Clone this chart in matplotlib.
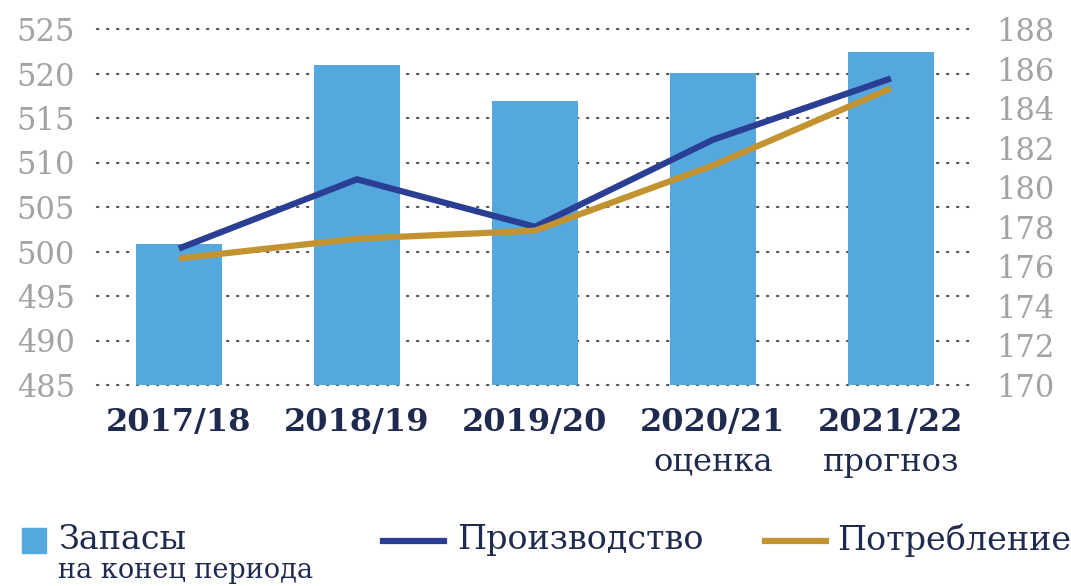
import matplotlib
matplotlib.use("Agg")
import matplotlib.pyplot as plt
from matplotlib.lines import Line2D
from matplotlib.patches import Rectangle
import numpy as np

categories = ["2017/18", "2018/19", "2019/20", "2020/21\nоценка", "2021/22\nпрогноз"]
stocks = [500.8, 521.0, 516.9, 520.1, 522.4]
production = [176.9, 180.4, 178.0, 182.4, 185.5]
consumption = [176.4, 177.4, 177.8, 181.1, 185.0]
left_ticks = [485, 490, 495, 500, 505, 510, 515, 520, 525]
right_ticks = [170, 172, 174, 176, 178, 180, 182, 184, 186, 188]
legend_labels = ["Запасы", "на конец периода", "Производство", "Потребление"]

BAR = "#54a8dd"
PROD = "#2a3f93"
CONS = "#c29330"
GREY = "#a3a3a3"
NAVY = "#1f2a4f"
FONT = "DejaVu Serif"

W, H = 1071, 586
fig = plt.figure(figsize=(W / 100, H / 100), dpi=100)
ax = fig.add_axes([97 / W, 1 - 385 / H, 874 / W, 356 / H])
x = np.arange(len(categories))

ax.set_ylim(485, 525)
ax.set_xlim(-0.46, 4.45)
ax.set_yticks(left_ticks)
ax.yaxis.grid(True, linestyle=(0, (0.6, 3.9)), color="#555555", linewidth=1.6,
              dash_capstyle="round", clip_on=False)
for gl in ax.get_ygridlines():
    gl.set_clip_on(False)
ax.set_axisbelow(True)
ax.bar(x, [s - 485 for s in stocks], bottom=485, width=0.48, color=BAR, zorder=2)
for s in ax.spines.values():
    s.set_visible(False)
ax.tick_params(axis="both", length=0)
ax.tick_params(axis="y", labelsize=22, labelcolor=GREY, pad=16)
ax.set_xticks(x)
ax.set_xticklabels([c.split("\n")[0] for c in categories], fontsize=23,
                   fontweight="bold", color=NAVY, family=FONT)
ax.tick_params(axis="x", pad=16)
for lab in ax.get_yticklabels():
    lab.set_family(FONT)
for i, c in enumerate(categories):
    parts = c.split("\n")
    if len(parts) > 1:
        ax.annotate(parts[1], xy=(i, 0), xycoords=("data", "axes fraction"),
                    xytext=(0, -55.5), textcoords="offset points", ha="center",
                    va="center", fontsize=23, color=NAVY, family=FONT)

ax2 = ax.twinx()
ax2.set_ylim(170, 188)
ax2.set_yticks(right_ticks)
ax2.plot(x, production, color=PROD, linewidth=4.5, solid_capstyle="butt", zorder=3)
ax2.plot(x, consumption, color=CONS, linewidth=4.5, solid_capstyle="butt", zorder=3)
for s in ax2.spines.values():
    s.set_visible(False)
ax2.tick_params(axis="y", length=0, labelsize=22, labelcolor=GREY, pad=18)
for lab in ax2.get_yticklabels():
    lab.set_family(FONT)

# legend
fig.patches.append(Rectangle((22 / W, 1 - 553 / H), 24 / W, 25 / H,
                             transform=fig.transFigure, color=BAR))
fig.text(58 / W, 1 - 540 / H, legend_labels[0], fontsize=24, color=NAVY,
         va="center", ha="left", family=FONT)
fig.text(58 / W, 1 - 571 / H, legend_labels[1], fontsize=19.5, color=NAVY,
         va="center", ha="left", family=FONT)
fig.lines.append(Line2D([383 / W, 444 / W], [1 - 541 / H] * 2,
                        transform=fig.transFigure, color=PROD, linewidth=4.5))
fig.text(457 / W, 1 - 540 / H, legend_labels[2], fontsize=24, color=NAVY,
         va="center", ha="left", family=FONT)
fig.lines.append(Line2D([765 / W, 826 / W], [1 - 541 / H] * 2,
                        transform=fig.transFigure, color=CONS, linewidth=4.5))
fig.text(837 / W, 1 - 540 / H, legend_labels[3], fontsize=24, color=NAVY,
         va="center", ha="left", family=FONT)

fig.savefig("out.png", dpi=100)
